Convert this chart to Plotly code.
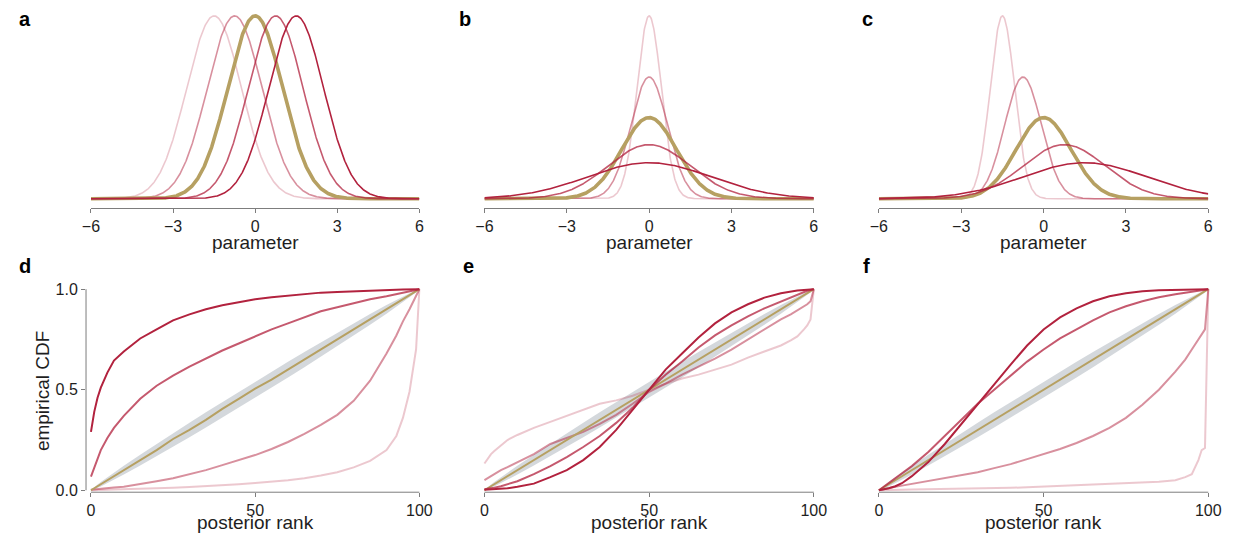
import numpy as np
import plotly.graph_objects as go

# the page body keeps the browser's default 8px margin, so the figure is drawn 16px smaller
PAGE_W, PAGE_H = 1244, 549
OFF = 8
W, H = PAGE_W - 2 * OFF, PAGE_H - 2 * OFF

# ---------------- data ----------------
# top row: posterior densities (mean, sd) per panel; order: light pink, mid pink, gold (calibrated), mid red, dark red
means_a = [-1.5, -0.75, 0.0, 0.75, 1.5]
sds_a = [1.0, 1.0, 1.0, 1.0, 1.0]
means_b = [0.0, 0.0, 0.0, 0.0, 0.0]
sds_b = [0.444, 0.667, 1.0, 1.5, 2.25]
means_c = [-1.5, -0.75, 0.0, 0.75, 1.5]
sds_c = [0.444, 0.667, 1.0, 1.5, 2.25]

param_ticks = [-6, -3, 0, 3, 6]
param_ticktext = ["\u22126", "\u22123", "0", "3", "6"]

# bottom row: empirical CDF of posterior ranks, read at these ranks
ranks = [0, 1, 2, 3, 5, 7, 10, 15, 20, 25, 30, 35, 40, 45, 50, 55, 60, 65, 70, 75, 80, 85, 90, 93, 95, 97, 98, 99, 100]

band_lower = [0, 0.004, 0.011, 0.019, 0.035, 0.052, 0.078, 0.123, 0.169, 0.216, 0.264, 0.312, 0.361, 0.41, 0.46,
              0.51, 0.561, 0.612, 0.664, 0.716, 0.769, 0.823, 0.878, 0.912, 0.935, 0.959, 0.971, 0.984, 1.0]
band_upper = [0, 0.016, 0.029, 0.041, 0.065, 0.088, 0.122, 0.177, 0.231, 0.284, 0.336, 0.388, 0.439, 0.49, 0.54,
              0.59, 0.639, 0.688, 0.736, 0.784, 0.831, 0.877, 0.922, 0.948, 0.965, 0.981, 0.989, 0.996, 1.0]

# panel d (shifted mean)
d_light = [0, 0, 0, 0.002, 0.003, 0.004, 0.005, 0.007, 0.01, 0.013, 0.016, 0.02, 0.024, 0.03, 0.036,
           0.042, 0.05, 0.06, 0.073, 0.09, 0.114, 0.146, 0.2, 0.27, 0.36, 0.49, 0.59, 0.70, 1.0]
d_pink = [0.003, 0.005, 0.007, 0.009, 0.012, 0.014, 0.018, 0.03, 0.045, 0.06, 0.08, 0.1, 0.125, 0.15, 0.175,
          0.205, 0.24, 0.28, 0.325, 0.375, 0.445, 0.545, 0.68, 0.77, 0.84, 0.9, 0.935, 0.965, 1.0]
d_gold = [0, 0.01, 0.02, 0.03, 0.05, 0.07, 0.1, 0.15, 0.2, 0.255, 0.3, 0.35, 0.405, 0.455, 0.505,
          0.55, 0.6, 0.65, 0.7, 0.75, 0.8, 0.85, 0.9, 0.93, 0.95, 0.97, 0.98, 0.99, 1.0]
d_red = [0.068, 0.114, 0.16, 0.2, 0.26, 0.31, 0.37, 0.455, 0.52, 0.57, 0.615, 0.655, 0.695, 0.73, 0.765,
         0.8, 0.83, 0.86, 0.89, 0.91, 0.93, 0.95, 0.965, 0.975, 0.983, 0.99, 0.993, 0.997, 1.0]
d_dark = [0.29, 0.39, 0.46, 0.51, 0.585, 0.645, 0.69, 0.755, 0.8, 0.845, 0.875, 0.9, 0.92, 0.935, 0.95,
          0.96, 0.967, 0.975, 0.983, 0.986, 0.99, 0.993, 0.995, 0.997, 0.998, 0.999, 1.0, 1.0, 1.0]

# panel e (scaled sd)
e_light = [0.133, 0.16, 0.18, 0.195, 0.225, 0.25, 0.275, 0.31, 0.34, 0.37, 0.40, 0.43, 0.447, 0.47, 0.5,
           0.53, 0.556, 0.575, 0.6, 0.625, 0.66, 0.69, 0.72, 0.745, 0.765, 0.8, 0.82, 0.85, 1.0]
e_pink = [0.05, 0.06, 0.07, 0.08, 0.1, 0.115, 0.14, 0.18, 0.23, 0.26, 0.29, 0.33, 0.375, 0.43, 0.49,
          0.53, 0.575, 0.615, 0.655, 0.7, 0.75, 0.8, 0.85, 0.875, 0.895, 0.915, 0.925, 0.94, 1.0]
e_gold = [0, 0.01, 0.02, 0.03, 0.05, 0.07, 0.1, 0.15, 0.2, 0.25, 0.3, 0.35, 0.4, 0.45, 0.5,
          0.55, 0.6, 0.65, 0.7, 0.75, 0.8, 0.85, 0.9, 0.93, 0.95, 0.97, 0.98, 0.99, 1.0]
e_red = [0.005, 0.007, 0.01, 0.013, 0.02, 0.03, 0.045, 0.08, 0.12, 0.165, 0.215, 0.27, 0.335, 0.41, 0.5,
         0.575, 0.64, 0.71, 0.77, 0.82, 0.865, 0.905, 0.94, 0.96, 0.975, 0.987, 0.992, 0.996, 1.0]
e_dark = [0.002, 0.003, 0.004, 0.005, 0.007, 0.01, 0.017, 0.033, 0.065, 0.1, 0.15, 0.215, 0.3, 0.4, 0.505,
          0.6, 0.68, 0.76, 0.83, 0.885, 0.925, 0.958, 0.98, 0.99, 0.993, 0.996, 0.998, 0.999, 1.0]

# panel f (shifted mean and scaled sd)
f_light = [0, 0, 0.001, 0.001, 0.002, 0.003, 0.004, 0.005, 0.006, 0.007, 0.009, 0.01, 0.012, 0.015, 0.018,
           0.021, 0.024, 0.027, 0.03, 0.033, 0.036, 0.042, 0.05, 0.065, 0.08, 0.15, 0.2, 0.21, 1.0]
f_pink = [0, 0.004, 0.008, 0.011, 0.017, 0.023, 0.032, 0.045, 0.06, 0.075, 0.09, 0.11, 0.13, 0.155, 0.18,
          0.205, 0.235, 0.27, 0.31, 0.36, 0.425, 0.5, 0.59, 0.65, 0.7, 0.75, 0.78, 0.8, 1.0]
f_gold = [0, 0.01, 0.02, 0.03, 0.05, 0.07, 0.1, 0.15, 0.2, 0.25, 0.3, 0.35, 0.4, 0.45, 0.5,
          0.55, 0.6, 0.65, 0.7, 0.75, 0.8, 0.85, 0.9, 0.93, 0.95, 0.97, 0.98, 0.99, 1.0]
f_red = [0, 0.012, 0.024, 0.035, 0.058, 0.08, 0.12, 0.19, 0.27, 0.35, 0.43, 0.5, 0.57, 0.64, 0.7,
         0.755, 0.8, 0.845, 0.885, 0.915, 0.94, 0.96, 0.975, 0.983, 0.988, 0.993, 0.995, 0.998, 1.0]
f_dark = [0, 0.003, 0.006, 0.01, 0.02, 0.035, 0.07, 0.14, 0.23, 0.33, 0.43, 0.53, 0.625, 0.72, 0.8,
          0.86, 0.905, 0.94, 0.965, 0.98, 0.99, 0.995, 0.997, 0.998, 0.999, 1.0, 1.0, 1.0, 1.0]

rank_ticks = [0, 50, 100]
cdf_ticks = [0, 0.5, 1.0]
cdf_ticktext = ["0.0", "0.5", "1.0"]

# ---------------- styles ----------------
RED = (178, 34, 62)
ALPHAS = [0.25, 0.5, None, 0.75, 1.0]
GOLD = "rgb(182,160,98)"
BAND = "rgb(212,216,220)"
AXC = "rgb(125,125,125)"
TXT = "rgb(30,30,30)"
FONT = "Liberation Sans, Arial, sans-serif"


def col(i):
    a = ALPHAS[i]
    if a is None:
        return GOLD
    return f"rgba({RED[0]},{RED[1]},{RED[2]},{a})"


# helpers take page pixel positions (as measured on the reference) and convert to figure paper coords
def px(x):
    return (x - OFF) / W


def py(y):
    return 1 - (y - OFF) / H


def xdom(p0, p1):
    return [px(p0), px(p1)]


def ydom(top, bottom):
    return [py(bottom), py(top)]


fig = go.Figure()

# ---------------- top row ----------------
xs = np.linspace(-6, 6, 721)
top_panels = [(means_a, sds_a), (means_b, sds_b), (means_c, sds_c)]
top_x = [(83, 416), (482, 816), (882, 1216)]
for k, (mus, sds) in enumerate(top_panels):
    n = k + 1
    ymax = 0
    for i, (m, s) in enumerate(zip(mus, sds)):
        dens = np.exp(-0.5 * ((xs - m) / s) ** 2) / (s * np.sqrt(2 * np.pi))
        ymax = max(ymax, dens.max())
        fig.add_trace(go.Scatter(
            x=xs, y=dens, mode="lines",
            line=dict(color=col(i), width=3.6 if i == 2 else 1.6),
            xaxis=f"x{n}", yaxis=f"y{n}", showlegend=False, hoverinfo="skip"))
    ppu = (200 - 14) / ymax
    fig.update_layout({
        f"xaxis{n}": dict(domain=xdom(*top_x[k]), range=[-6, 6], anchor=f"y{n}",
                          showgrid=False, zeroline=False, showline=True, linecolor=AXC, linewidth=1,
                          ticks="outside", ticklen=4, tickcolor=AXC, tickwidth=1,
                          tickvals=param_ticks, ticktext=param_ticktext,
                          tickfont=dict(size=16, color=TXT, family=FONT)),
        f"yaxis{n}": dict(domain=ydom(9, 209), range=[-(209 - 200) / ppu, ymax + (14 - 9) / ppu],
                          anchor=f"x{n}", visible=False),
    })

# ---------------- bottom row ----------------
bottom_panels = [
    [d_light, d_pink, d_gold, d_red, d_dark],
    [e_light, e_pink, e_gold, e_red, e_dark],
    [f_light, f_pink, f_gold, f_red, f_dark],
]
bot_x = [(83, 416), (482, 816), (882, 1216)]
y0px, y1px = 496.5, 292.0  # pixel rows of cdf 0 and 1
yppu = y0px - y1px
for k, series in enumerate(bottom_panels):
    n = k + 4
    fig.add_trace(go.Scatter(x=ranks, y=band_lower, mode="lines", line=dict(width=0, color=BAND),
                             xaxis=f"x{n}", yaxis=f"y{n}", showlegend=False, hoverinfo="skip"))
    fig.add_trace(go.Scatter(x=ranks, y=band_upper, mode="lines", line=dict(width=0, color=BAND),
                             fill="tonexty", fillcolor=BAND,
                             xaxis=f"x{n}", yaxis=f"y{n}", showlegend=False, hoverinfo="skip"))
    for i, vals in enumerate(series):
        fig.add_trace(go.Scatter(
            x=ranks, y=vals, mode="lines",
            line=dict(color=col(i), width=2.0),
            xaxis=f"x{n}", yaxis=f"y{n}", showlegend=False, hoverinfo="skip"))
    p0, p1 = bot_x[k]
    xppu = (p1 - p0) / 100
    fig.update_layout({
        f"xaxis{n}": dict(domain=xdom(p0 - 5, p1 + 5), range=[-5 / xppu, 100 + 5 / xppu], anchor=f"y{n}",
                          showgrid=False, zeroline=False, showline=False,
                          ticks="outside", ticklen=4, tickcolor=AXC, tickwidth=1,
                          tickvals=rank_ticks, tickfont=dict(size=16, color=TXT, family=FONT)),
        f"yaxis{n}": dict(domain=ydom(286, 498.5), range=[-(498.5 - y0px) / yppu, 1 + (y1px - 286) / yppu],
                          anchor=f"x{n}", showgrid=False, zeroline=False, showline=False,
                          ticks="outside" if k == 0 else "", ticklen=4, tickcolor=AXC, tickwidth=1,
                          tickvals=cdf_ticks, ticktext=cdf_ticktext, showticklabels=(k == 0),
                          tickfont=dict(size=16, color=TXT, family=FONT)),
    })
    fig.add_shape(type="line", xref=f"x{n}", yref="paper", x0=0, x1=100,
                  y0=py(498.5), y1=py(498.5), line=dict(color=AXC, width=1))

# y axis line of panel d
fig.add_shape(type="line", xref="paper", yref="y4", x0=px(78), x1=px(78), y0=0, y1=1,
              line=dict(color=AXC, width=1))

# ---------------- text ----------------
ann = []
for cx in [249.5, 649, 1049]:
    ann.append(dict(text="parameter", x=px(cx), y=py(244), xref="paper", yref="paper",
                    showarrow=False, xanchor="center", yanchor="middle",
                    font=dict(size=19, color=TXT, family=FONT)))
    ann.append(dict(text="posterior rank", x=px(cx), y=py(529), xref="paper", yref="paper",
                    showarrow=False, xanchor="center", yanchor="middle",
                    font=dict(size=19, color=TXT, family=FONT)))
ann.append(dict(text="empirical CDF", x=px(34), y=py(396), xref="paper", yref="paper",
                showarrow=False, xanchor="center", yanchor="middle", textangle=-90,
                font=dict(size=19, color=TXT, family=FONT)))
for letter, lx, ly in [("a", 16, 17), ("b", 462, 17), ("c", 870, 17),
                       ("d", 16, 268), ("e", 466, 268), ("f", 869, 268)]:
    ann.append(dict(text=f"<b>{letter}</b>", x=px(lx), y=py(ly), xref="paper", yref="paper",
                    showarrow=False, xanchor="center", yanchor="middle",
                    font=dict(size=20, color="black", family=FONT)))

fig.update_layout(
    width=W, height=H, margin=dict(l=0, r=0, t=0, b=0),
    paper_bgcolor="white", plot_bgcolor="rgba(0,0,0,0)",
    annotations=ann, font=dict(family=FONT, color=TXT),
)

fig.write_html("out.html", config={"displayModeBar": False})
